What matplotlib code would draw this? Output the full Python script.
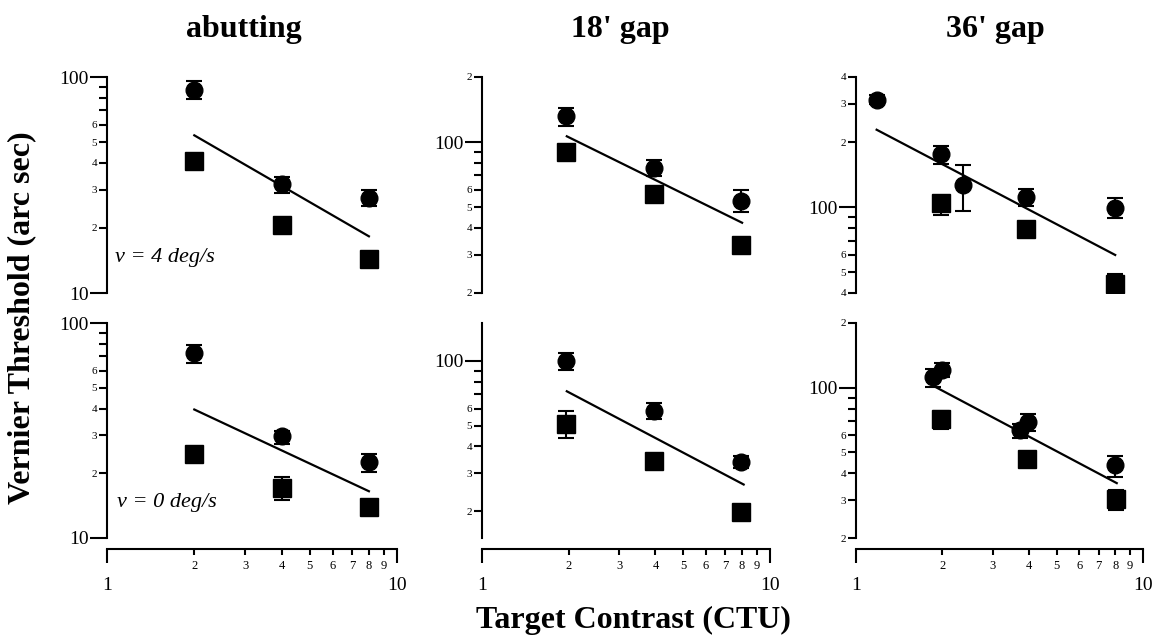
"""
Vernier threshold vs target contrast, 2 x 3 log-log panels
"""
import matplotlib
matplotlib.use("Agg")
import matplotlib.pyplot as plt
import numpy as np

plt.rcParams["font.family"] = ["Liberation Serif", "DejaVu Serif"]

# --- data ------------------------------------------------------------------
col_titles = ["abutting", "18' gap", "36' gap"]
row_notes = ["v = 4 deg/s", "v = 0 deg/s"]

# abutting, v = 4
a4_circ_x = [2, 4, 8]
a4_circ_y = [87, 32, 27.5]
a4_circ_lo = [79, 29, 25.4]
a4_circ_hi = [96, 34.5, 30]
a4_sq_x = [2, 4, 8]
a4_sq_y = [41, 20.6, 14.4]
a4_sq_lo = [41, 20.6, 14.4]
a4_sq_hi = [41, 20.6, 14.4]
a4_fit_x = [2, 8]
a4_fit_y = [53.7, 18.3]

# abutting, v = 0
a0_circ_x = [2, 4, 8]
a0_circ_y = [72.4, 29.7, 22.6]
a0_circ_lo = [65.5, 27.3, 20.3]
a0_circ_hi = [78.7, 31.5, 24.7]
a0_sq_x = [2, 4, 8]
a0_sq_y = [24.7, 17.1, 13.9]
a0_sq_lo = [24.7, 15.1, 13.9]
a0_sq_hi = [24.7, 19.3, 13.9]
a0_fit_x = [2, 8]
a0_fit_y = [39.6, 16.5]

# 18' gap, v = 4
g18_4_circ_x = [1.96, 3.95, 7.95]
g18_4_circ_y = [131.7, 76.2, 53.3]
g18_4_circ_lo = [119, 69.3, 47.6]
g18_4_circ_hi = [143, 82.7, 59.8]
g18_4_sq_x = [1.96, 3.95, 7.95]
g18_4_sq_y = [89.6, 57.3, 33.5]
g18_4_sq_lo = [89.6, 57.3, 33.5]
g18_4_sq_hi = [89.6, 57.3, 33.5]
g18_4_fit_x = [1.97, 8.0]
g18_4_fit_y = [106.3, 42.3]

# 18' gap, v = 0
g18_0_circ_x = [1.96, 3.95, 7.95]
g18_0_circ_y = [99.7, 58.6, 33.8]
g18_0_circ_lo = [91, 53.7, 31.8]
g18_0_circ_hi = [108.6, 63.6, 36.1]
g18_0_sq_x = [1.96, 3.95, 7.95]
g18_0_sq_y = [50.8, 34.2, 19.9]
g18_0_sq_lo = [43.7, 34.2, 19.9]
g18_0_sq_hi = [58.6, 34.2, 19.9]
g18_0_fit_x = [1.97, 8.1]
g18_0_fit_y = [72.2, 26.6]

# 36' gap, v = 4
g36_4_circ_x = [1.18, 1.98, 2.36, 3.92, 8.0]
g36_4_circ_y = [313, 176, 126, 111, 98.6]
g36_4_circ_lo = [300, 158, 96, 101, 88.6]
g36_4_circ_hi = [330, 191, 156, 121, 109.7]
g36_4_sq_x = [1.98, 3.92, 8.0]
g36_4_sq_y = [104, 79, 44]
g36_4_sq_lo = [91.8, 79, 38.8]
g36_4_sq_hi = [112, 79, 49]
g36_4_fit_x = [1.18, 8.0]
g36_4_fit_y = [228, 60]

# 36' gap, v = 0
g36_0_circ_x = [1.86, 2.0, 3.74, 3.97, 8.0]
g36_0_circ_y = [111.6, 120.8, 63.7, 69.1, 43.6]
g36_0_circ_lo = [101, 112, 58.5, 63.2, 38.5]
g36_0_circ_hi = [122, 130, 67.9, 75.6, 47.9]
g36_0_sq_x = [1.98, 3.94, 8.05]
g36_0_sq_y = [71.6, 46.8, 30.5]
g36_0_sq_lo = [64.5, 46.8, 26.9]
g36_0_sq_hi = [78, 46.8, 33.4]
g36_0_fit_x = [1.86, 8.1]
g36_0_fit_y = [102, 36]

# y ranges and ticks per panel (row, col)
ylims = {
    (0, 0): (10, 100), (1, 0): (10, 100),
    (0, 1): (20, 200), (1, 1): (15, 150),
    (0, 2): (40, 400), (1, 2): (20, 200),
}
y_major = [10, 100]
y_major_labels = ["10", "100"]
y_minor = [20, 30, 40, 50, 60, 70, 80, 90, 200, 300, 400]
y_minor_labels = ["2", "3", "4", "5", "6", "", "", "", "2", "3", "4"]

x_major = [1, 10]
x_major_labels = ["1", "10"]
x_minor = [2, 3, 4, 5, 6, 7, 8, 9]
x_minor_labels = ["2", "3", "4", "5", "6", "7", "8", "9"]

panels = {
    (0, 0): (a4_circ_x, a4_circ_y, a4_circ_lo, a4_circ_hi,
             a4_sq_x, a4_sq_y, a4_sq_lo, a4_sq_hi, a4_fit_x, a4_fit_y),
    (1, 0): (a0_circ_x, a0_circ_y, a0_circ_lo, a0_circ_hi,
             a0_sq_x, a0_sq_y, a0_sq_lo, a0_sq_hi, a0_fit_x, a0_fit_y),
    (0, 1): (g18_4_circ_x, g18_4_circ_y, g18_4_circ_lo, g18_4_circ_hi,
             g18_4_sq_x, g18_4_sq_y, g18_4_sq_lo, g18_4_sq_hi, g18_4_fit_x, g18_4_fit_y),
    (1, 1): (g18_0_circ_x, g18_0_circ_y, g18_0_circ_lo, g18_0_circ_hi,
             g18_0_sq_x, g18_0_sq_y, g18_0_sq_lo, g18_0_sq_hi, g18_0_fit_x, g18_0_fit_y),
    (0, 2): (g36_4_circ_x, g36_4_circ_y, g36_4_circ_lo, g36_4_circ_hi,
             g36_4_sq_x, g36_4_sq_y, g36_4_sq_lo, g36_4_sq_hi, g36_4_fit_x, g36_4_fit_y),
    (1, 2): (g36_0_circ_x, g36_0_circ_y, g36_0_circ_lo, g36_0_circ_hi,
             g36_0_sq_x, g36_0_sq_y, g36_0_sq_lo, g36_0_sq_hi, g36_0_fit_x, g36_0_fit_y),
}

# --- layout (pixels of a 1153 x 639 canvas) ---------------------------------
W, H = 1153, 639
col_px = [(107, 290), (482, 288), (856, 287)]   # left, width
row_px = [(77, 293), (323, 538)]                 # top, bottom
title_x = [244, 620, 995]


def draw_panel(ax, key):
    cx, cy, clo, chi, sx, sy, slo, shi, fx, fy = panels[key]
    cy = np.array(cy)
    sy = np.array(sy)
    ax.errorbar(sx, sy, yerr=[sy - np.array(slo), np.array(shi) - sy],
                fmt="none", ecolor="black", elinewidth=1.5, capsize=6, capthick=1.5, zorder=2)
    ax.errorbar(cx, cy, yerr=[cy - np.array(clo), np.array(chi) - cy],
                fmt="none", ecolor="black", elinewidth=1.5, capsize=6, capthick=1.5, zorder=2)
    ax.plot(fx, fy, color="black", linewidth=1.6, zorder=4)
    ax.plot(sx, sy, "s", color="black", markersize=13.5, zorder=3)
    ax.plot(cx, cy, "o", color="black", markersize=12, zorder=3)


fig = plt.figure(figsize=(W / 100, H / 100), dpi=100, facecolor="white")

for r in range(2):
    for c in range(3):
        left, width = col_px[c]
        top, bottom = row_px[r]
        ax = fig.add_axes([left / W, 1 - bottom / H, width / W, (bottom - top) / H])
        draw_panel(ax, (r, c))

        ax.set_xscale("log")
        ax.set_yscale("log")

        for sp in ["top", "right"]:
            ax.spines[sp].set_visible(False)
        for sp in ax.spines.values():
            sp.set_linewidth(1.5)

        ax.set_yticks(y_major, y_major_labels)
        ax.set_yticks(y_minor, y_minor_labels, minor=True)
        ax.tick_params(axis="y", which="major", length=12, width=1.5, pad=1, labelsize=14)
        ax.tick_params(axis="y", which="minor", length=6, width=1.5, pad=1, labelsize=8)

        if r == 1:
            ax.spines["bottom"].set_position(("outward", 8))
            ax.set_xticks(x_major, x_major_labels)
            ax.set_xticks(x_minor, x_minor_labels, minor=True)
            ax.tick_params(axis="x", which="major", length=10, width=1.5, pad=10, labelsize=14)
            ax.tick_params(axis="x", which="minor", length=4.5, width=1.5, pad=3, labelsize=9)
        else:
            ax.spines["bottom"].set_visible(False)
            ax.tick_params(axis="x", which="both", bottom=False, labelbottom=False)

        # limits last: set_yticks would otherwise widen them
        ax.set_xlim(1, 10)
        ax.set_ylim(*ylims[(r, c)])

        if c == 0:
            ax.text(0.028 if r == 0 else 0.034, 0.165, row_notes[r],
                    transform=ax.transAxes, fontsize=16, style="italic",
                    ha="left", va="center")

for c in range(3):
    fig.text(title_x[c] / W, 1 - 37 / H, col_titles[c], fontsize=23, fontweight="bold",
             ha="center", va="baseline")

fig.text(22 / W, 1 - 318 / H, "Vernier Threshold (arc sec)", fontsize=23,
         fontweight="bold", rotation=90, ha="center", va="center")
fig.text(633 / W, 1 - 628 / H, "Target Contrast (CTU)", fontsize=23,
         fontweight="bold", ha="center", va="baseline")

fig.savefig("out.png", dpi=100, facecolor="white")
